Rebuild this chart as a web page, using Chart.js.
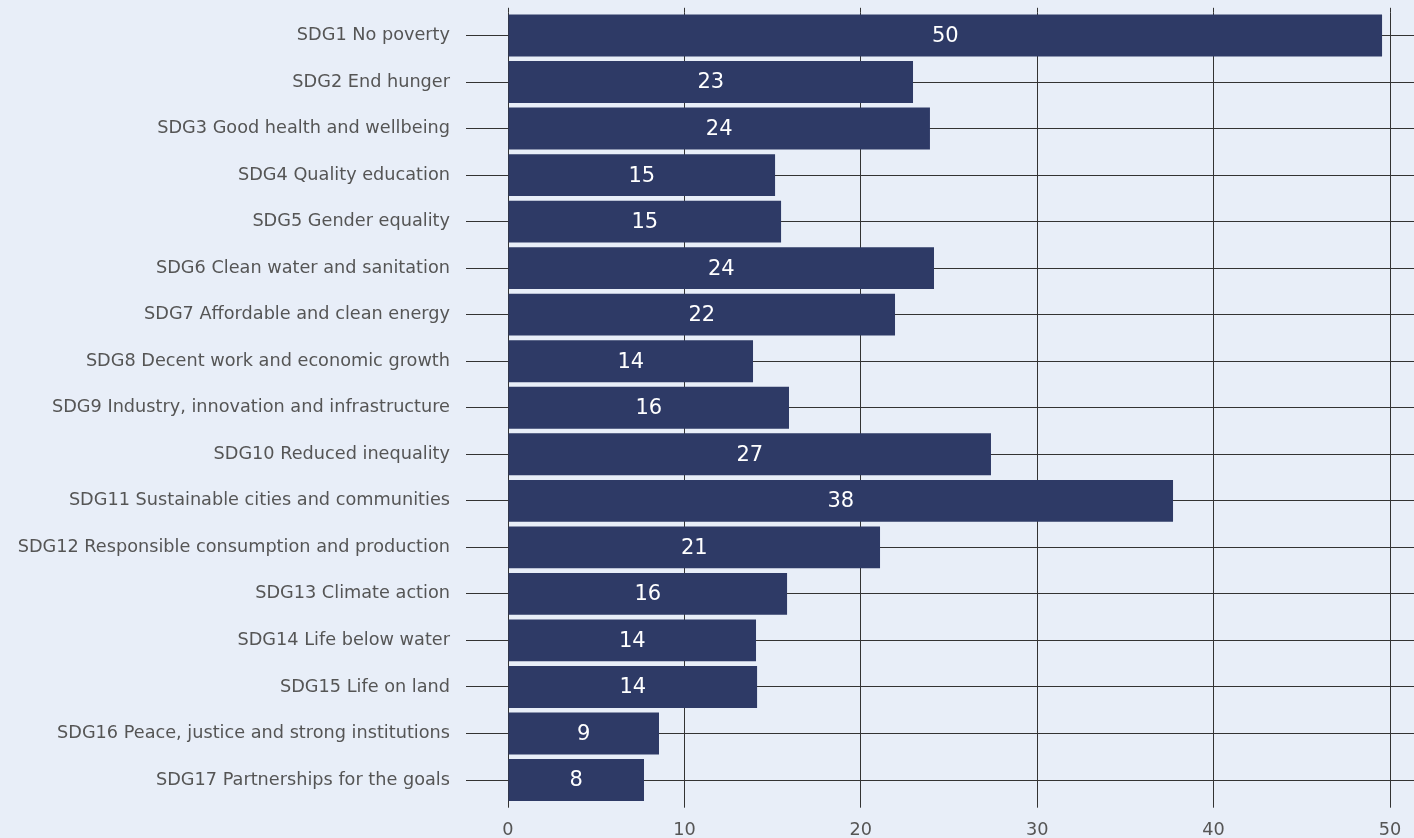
<!DOCTYPE html>
<html>
<head>
<meta charset="utf-8">
<script src="https://cdn.jsdelivr.net/npm/chart.js@4"></script>
<style>
  html, body { margin: 0; padding: 0; background: #e8eef8; }
  #wrap { width: 1414px; height: 838px; }
</style>
</head>
<body>
<div id="wrap"><canvas id="sdgChart"></canvas></div>
<script>
const goals = [
  "SDG1 No poverty",
  "SDG2 End hunger",
  "SDG3 Good health and wellbeing",
  "SDG4 Quality education",
  "SDG5 Gender equality",
  "SDG6 Clean water and sanitation",
  "SDG7 Affordable and clean energy",
  "SDG8 Decent work and economic growth",
  "SDG9 Industry, innovation and infrastructure",
  "SDG10 Reduced inequality",
  "SDG11 Sustainable cities and communities",
  "SDG12 Responsible consumption and production",
  "SDG13 Climate action",
  "SDG14 Life below water",
  "SDG15 Life on land",
  "SDG16 Peace, justice and strong institutions",
  "SDG17 Partnerships for the goals"
];
const counts = [49.55, 22.96, 23.92, 15.14, 15.48, 24.15, 21.94, 13.89, 15.93, 27.38, 37.7, 21.09, 15.82, 14.06, 14.12, 8.56, 7.71];
const xTicks = [0, 10, 20, 30, 40, 50];

const barColor = "#2e3a66";
const gridColor = "#333333";
const textColor = "#555555";

// white rounded value in the middle of each bar
const barLabels = {
  id: "barLabels",
  afterDatasetsDraw(chart) {
    const ctx = chart.ctx;
    const meta = chart.getDatasetMeta(0);
    ctx.save();
    ctx.fillStyle = "#ffffff";
    ctx.font = "21px 'DejaVu Sans'";
    ctx.textAlign = "center";
    ctx.textBaseline = "middle";
    meta.data.forEach((bar, i) => {
      const v = chart.data.datasets[0].data[i];
      ctx.fillText(Math.round(v), (bar.x + bar.base) / 2, bar.y + 1);
    });
    ctx.restore();
  }
};

Chart.defaults.font.family = "'DejaVu Sans'";
Chart.defaults.color = textColor;

new Chart(document.getElementById("sdgChart"), {
  type: "bar",
  data: {
    labels: goals,
    datasets: [{
      data: counts,
      backgroundColor: barColor,
      borderWidth: 0,
      barPercentage: 0.9,
      categoryPercentage: 1.0
    }]
  },
  options: {
    indexAxis: "y",
    responsive: true,
    maintainAspectRatio: false,
    animation: false,
    layout: { padding: { top: 7.8, left: 0, right: 0, bottom: 0 } },
    plugins: {
      legend: { display: false },
      tooltip: { enabled: false }
    },
    scales: {
      x: {
        type: "linear",
        position: "bottom",
        min: 0,
        max: 50,
        afterBuildTicks: (s) => { s.ticks = xTicks.map(v => ({ value: v })); },
        afterFit: (s) => { s.height = 34.7; },
        border: { display: false },
        grid: { color: gridColor, lineWidth: 1, tickLength: 4.4 },
        ticks: { font: { size: 17.7 }, padding: 12.5, color: textColor }
      },
      x2: {
        type: "linear",
        position: "top",
        min: 0,
        max: 50,
        afterBuildTicks: (s) => { s.ticks = xTicks.map(v => ({ value: v })); },
        afterFit: (s) => { s.height = 4.4; },
        border: { display: false },
        grid: { color: gridColor, lineWidth: 1, tickLength: 4.4, drawOnChartArea: false },
        ticks: { display: false }
      },
      y: {
        type: "category",
        position: "left",
        offset: true,
        afterFit: (s) => { s.width = 508; s.paddingTop = 0; s.paddingBottom = 0; },
        border: { display: false },
        grid: { color: gridColor, lineWidth: 1, offset: false, tickLength: 42 },
        ticks: { font: { size: 17.7 }, padding: 16, color: textColor }
      },
      y2: {
        type: "category",
        position: "right",
        labels: goals,
        offset: true,
        afterFit: (s) => { s.width = 24; s.paddingTop = 0; s.paddingBottom = 0; },
        border: { display: false },
        grid: { color: gridColor, lineWidth: 1, offset: false, tickLength: 24, drawOnChartArea: false },
        ticks: { display: false }
      }
    }
  },
  plugins: [barLabels]
});
</script>
</body>
</html>
